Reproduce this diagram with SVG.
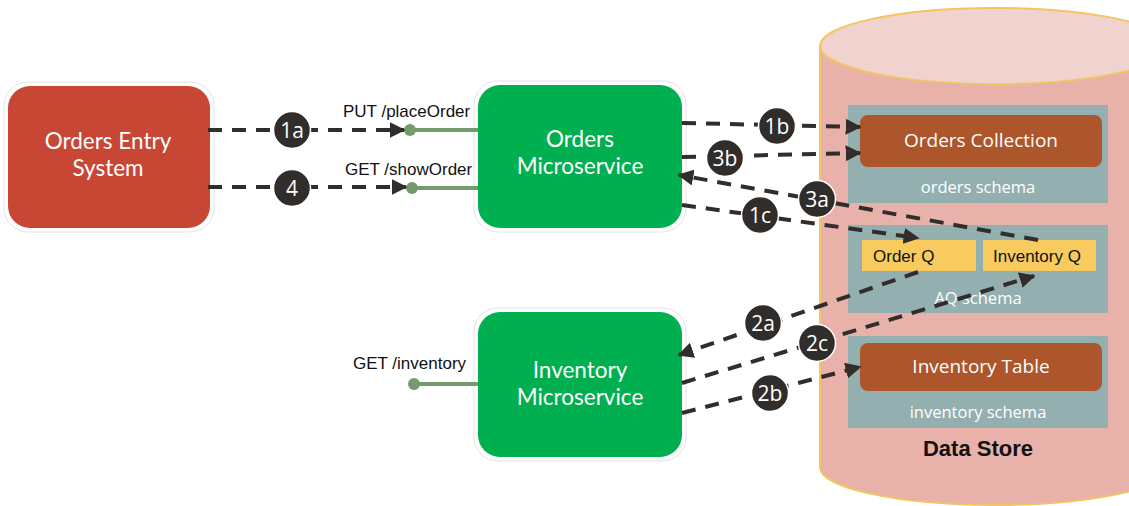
<svg xmlns="http://www.w3.org/2000/svg" width="1129" height="506" viewBox="0 0 1129 506">
  <defs>
    <marker id="arrow" viewBox="0 0 10 10" refX="9" refY="5" markerWidth="4" markerHeight="4" orient="auto" markerUnits="strokeWidth">
      <path d="M0,0 L10,5 L0,10 Z" fill="#312D2A"/>
    </marker>
    <style>
      .svc-text { font-family: Lato, "Open Sans", sans-serif; font-size: 22.5px; fill: #ffffff; text-anchor: middle; }
      .ep-text { font-family: "Liberation Sans", Arial, sans-serif; font-size: 17px; fill: #111111; }
      .ep-line { stroke: #739C6C; stroke-width: 4; fill: none; }
      .ep-dot { fill: #739C6C; }
      .flow { stroke: #312D2A; stroke-width: 4; stroke-dasharray: 14 10; fill: none; marker-end: url(#arrow); }
      .badge circle { fill: #312D2A; stroke: #ffffff; stroke-width: 1.5; }
      .badge text { font-family: "Open Sans", "Noto Sans", sans-serif; font-size: 21px; fill: #ffffff; text-anchor: middle; }
      .outline { fill: #ffffff; stroke: #E2E2E2; stroke-width: 1; }
      .schema { fill: #93AFAF; }
      .schema-text { font-family: "Open Sans", "Noto Sans", sans-serif; font-size: 16.5px; fill: #ffffff; text-anchor: middle; }
      .table { fill: #AD552B; }
      .table-text { font-family: "Open Sans", "Noto Sans", sans-serif; font-size: 19px; fill: #ffffff; text-anchor: middle; }
      .queue { fill: #F8CB5E; }
      .queue-text { font-family: "Liberation Sans", Arial, sans-serif; font-size: 17px; fill: #111111; }
    </style>
  </defs>

  <!-- Data store cylinder -->
  <g id="data-store">
    <path d="M820,46 L820,467 A175,38 0 0 0 1170,467 L1170,46 Z" fill="#E8B1A9" stroke="#F3C560" stroke-width="2"/>
    <ellipse cx="995" cy="46" rx="175" ry="38" fill="#F0D2CE" stroke="#F3C560" stroke-width="2"/>
    <text x="978" y="456" font-family="Liberation Sans, Arial, sans-serif" font-size="22" font-weight="bold" fill="#111111" text-anchor="middle">Data Store</text>
  </g>

  <g id="orders-schema">
    <rect class="schema" x="848" y="105" width="260" height="98"/>
    <text class="schema-text" x="978" y="193">orders schema</text>
  </g>
  <g id="orders-collection">
    <rect class="table" x="860" y="115" width="242" height="52" rx="8"/>
    <text class="table-text" x="981" y="147">Orders Collection</text>
  </g>

  <g id="aq-schema">
    <rect class="schema" x="848" y="225" width="260" height="88"/>
    <text class="schema-text" x="978" y="304">AQ schema</text>
  </g>
  <g id="order-q">
    <rect class="queue" x="862" y="240" width="114" height="31"/>
    <text class="queue-text" x="873" y="262">Order Q</text>
  </g>
  <g id="inventory-q">
    <rect class="queue" x="983" y="240" width="113" height="31"/>
    <text class="queue-text" x="993" y="262">Inventory Q</text>
  </g>

  <g id="inventory-schema">
    <rect class="schema" x="848" y="336" width="260" height="92"/>
    <text class="schema-text" x="978" y="418">inventory schema</text>
  </g>
  <g id="inventory-table">
    <rect class="table" x="860" y="343" width="242" height="48" rx="8"/>
    <text class="table-text" x="981" y="373">Inventory Table</text>
  </g>

  <!-- Services -->
  <g id="orders-entry-system">
    <rect class="outline" x="4" y="82" width="210" height="150" rx="24"/>
    <rect x="8" y="86" width="202" height="142" rx="22" fill="#C84634"/>
    <text class="svc-text" x="108" y="149">Orders Entry</text>
    <text class="svc-text" x="108" y="176">System</text>
  </g>

  <g id="orders-microservice">
    <rect class="outline" x="474" y="81" width="212" height="151" rx="24"/>
    <rect x="478" y="85" width="204" height="143" rx="22" fill="#00AF50"/>
    <text class="svc-text" x="580" y="147">Orders</text>
    <text class="svc-text" x="580" y="174">Microservice</text>
  </g>

  <g id="inventory-microservice">
    <rect class="outline" x="474" y="308" width="212" height="153" rx="24"/>
    <rect x="478" y="312" width="204" height="145" rx="22" fill="#00AF50"/>
    <text class="svc-text" x="580" y="378">Inventory</text>
    <text class="svc-text" x="580" y="405">Microservice</text>
  </g>

  <!-- REST endpoints -->
  <g id="endpoints">
    <line class="ep-line" x1="410" y1="130" x2="478" y2="130"/>
    <circle class="ep-dot" cx="410" cy="130" r="6"/>
    <text class="ep-text" x="343" y="117">PUT /placeOrder</text>

    <line class="ep-line" x1="412" y1="188" x2="478" y2="188"/>
    <circle class="ep-dot" cx="412" cy="188" r="6"/>
    <text class="ep-text" x="345" y="175">GET /showOrder</text>

    <line class="ep-line" x1="414" y1="384" x2="478" y2="384"/>
    <circle class="ep-dot" cx="414" cy="384" r="6"/>
    <text class="ep-text" x="353" y="369">GET /inventory</text>
  </g>

  <!-- Connectors -->
  <g id="connectors">
    <line class="flow" x1="208" y1="130" x2="404" y2="130"/>
    <line class="flow" x1="208" y1="187" x2="406" y2="187"/>
    <line class="flow" x1="682" y1="123" x2="860" y2="127"/>
    <line class="flow" x1="682" y1="157" x2="860" y2="153"/>
    <line class="flow" x1="1038" y1="240" x2="679" y2="175"/>
    <line class="flow" x1="682" y1="205" x2="918" y2="238"/>
    <line class="flow" x1="918" y1="272" x2="679" y2="355"/>
    <line class="flow" x1="682" y1="383" x2="1034" y2="276"/>
    <line class="flow" x1="682" y1="413" x2="860" y2="367"/>
  </g>

  <!-- Step badges -->
  <g id="badges">
    <g class="badge"><circle cx="292" cy="130" r="18.5"/><text x="292" y="137.5">1a</text></g>
    <g class="badge"><circle cx="292" cy="188" r="18.5"/><text x="292" y="195.5">4</text></g>
    <g class="badge"><circle cx="777" cy="126" r="18.5"/><text x="777" y="133.5">1b</text></g>
    <g class="badge"><circle cx="725" cy="158" r="18.5"/><text x="725" y="165.5">3b</text></g>
    <g class="badge"><circle cx="817" cy="199" r="18.5"/><text x="817" y="206.5">3a</text></g>
    <g class="badge"><circle cx="760" cy="215" r="18.5"/><text x="760" y="222.5">1c</text></g>
    <g class="badge"><circle cx="763" cy="323" r="18.5"/><text x="763" y="330.5">2a</text></g>
    <g class="badge"><circle cx="817" cy="343" r="18.5"/><text x="817" y="350.5">2c</text></g>
    <g class="badge"><circle cx="770" cy="393" r="18.5"/><text x="770" y="400.5">2b</text></g>
  </g>
</svg>
